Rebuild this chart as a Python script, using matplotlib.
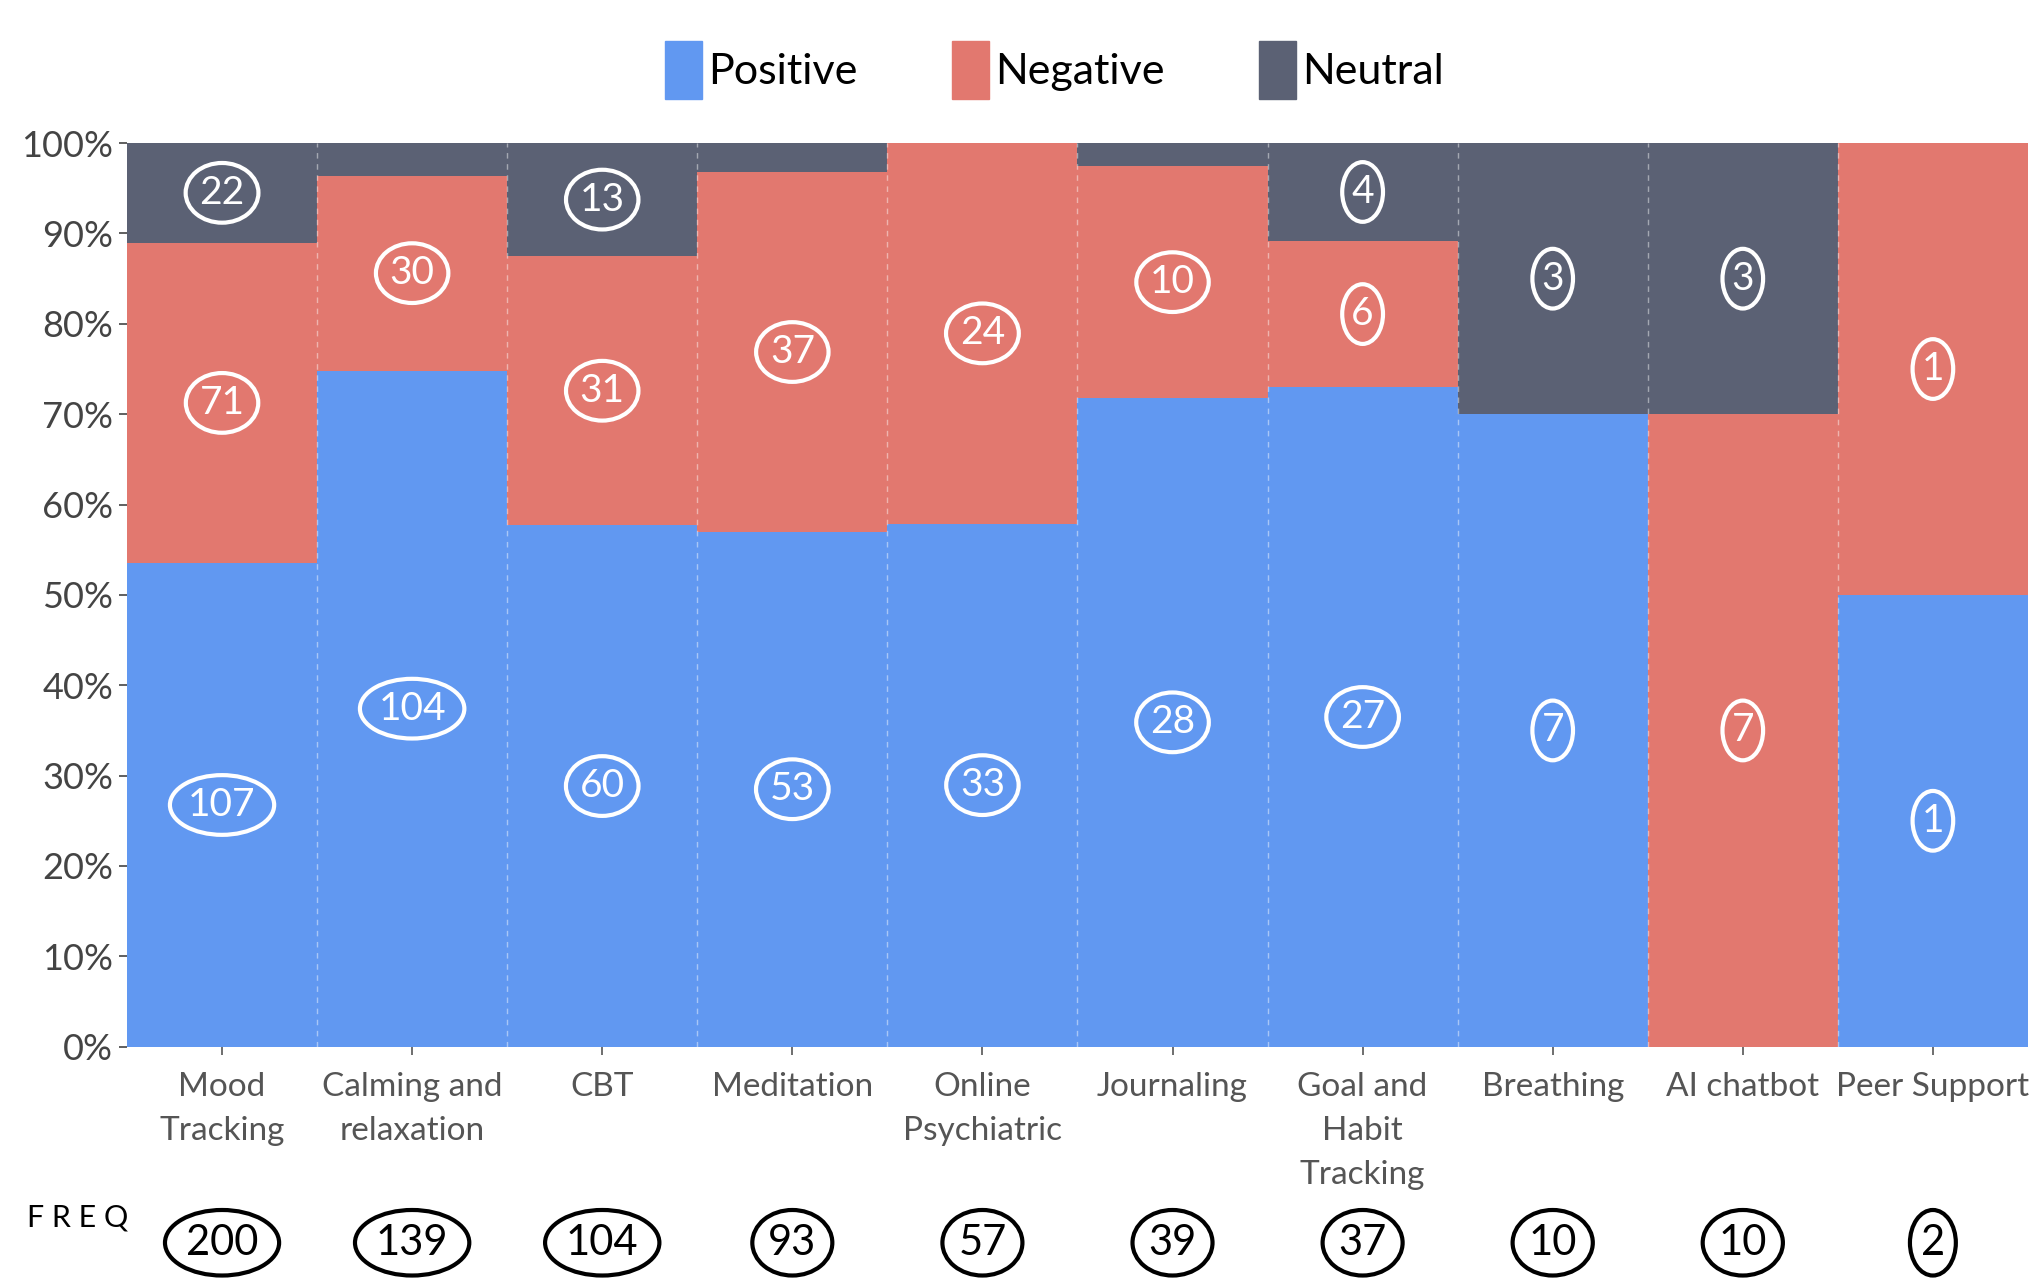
import matplotlib
matplotlib.use("Agg")
import matplotlib.pyplot as plt
import numpy as np
from matplotlib.patches import Patch
from matplotlib.transforms import blended_transform_factory

plt.rcParams['font.family'] = ['Lato', 'DejaVu Sans']

categories = ["Mood\nTracking", "Calming and\nrelaxation", "CBT", "Meditation",
              "Online\nPsychiatric", "Journaling", "Goal and\nHabit\nTracking",
              "Breathing", "AI chatbot", "Peer Support"]
positive = [107, 104, 60, 53, 33, 28, 27, 7, 0, 1]
negative = [71, 30, 31, 37, 24, 10, 6, 0, 7, 1]
neutral = [22, 5, 13, 3, 0, 1, 4, 3, 3, 0]
# which counts are circled on the chart
show_pos = [True, True, True, True, True, True, True, True, False, True]
show_neg = [True, True, True, True, True, True, True, False, True, True]
show_neu = [True, False, True, False, False, False, True, True, True, False]
yticks = [0, 10, 20, 30, 40, 50, 60, 70, 80, 90, 100]

C_POS = "#6198F1"
C_NEG = "#E2786F"
C_NEU = "#5B6174"

pos = np.array(positive, float)
neg = np.array(negative, float)
neu = np.array(neutral, float)
freq = pos + neg + neu
p_pos = pos / freq
p_neg = neg / freq
p_neu = neu / freq
x = np.arange(len(categories))

fig = plt.figure(figsize=(20.32, 12.78), dpi=100)
ax = fig.add_axes([0.0625, 0.181, 0.9355, 0.707])

ax.bar(x, p_pos, width=1.0, color=C_POS, linewidth=0)
ax.bar(x, p_neg, width=1.0, bottom=p_pos, color=C_NEG, linewidth=0)
ax.bar(x, p_neu, width=1.0, bottom=p_pos + p_neg, color=C_NEU, linewidth=0)

for b in np.arange(0.5, len(categories) - 1, 1.0):
    ax.axvline(b, color="white", ls=(0, (4, 4)), lw=1, alpha=0.45)

ax.set_xlim(-0.5, len(categories) - 0.5)
ax.set_ylim(0, 1)
ax.set_yticks([v / 100 for v in yticks])
ax.set_yticklabels([f"{v}%" for v in yticks])
ax.set_xticks(x)
ax.set_xticklabels(categories, linespacing=1.6)
ax.tick_params(axis='y', labelsize=26, colors="#444444", length=6, width=1.2, pad=4)
ax.tick_params(axis='x', labelsize=24, colors="#555555", length=6, width=1.2, pad=12)
for s in ax.spines.values():
    s.set_visible(False)


def circled(xv, yv, val, color, transform=None, fs=28, pad=0.08):
    kw = {}
    if transform is not None:
        kw['transform'] = transform
    ax.text(xv, yv, str(int(val)), ha='center', va='center', fontsize=fs, color=color,
            bbox=dict(boxstyle=f'ellipse,pad={pad}', fc='none', ec=color, lw=3), **kw)


for i in range(len(categories)):
    if show_pos[i] and pos[i] > 0:
        circled(x[i], p_pos[i] / 2, pos[i], "white")
    if show_neg[i] and neg[i] > 0:
        circled(x[i], p_pos[i] + p_neg[i] / 2, neg[i], "white")
    if show_neu[i] and neu[i] > 0:
        circled(x[i], p_pos[i] + p_neg[i] + p_neu[i] / 2, neu[i], "white")

trans = blended_transform_factory(ax.transData, ax.transAxes)
for i in range(len(categories)):
    circled(x[i], -0.217, freq[i], "black", transform=trans, fs=30, pad=0.1)

fig.text(0.038, 0.047, "F R E Q", ha='center', va='center', fontsize=22, color="black")

handles = [Patch(color=C_POS, label="Positive"), Patch(color=C_NEG, label="Negative"),
           Patch(color=C_NEU, label="Neutral")]
fig.legend(handles=handles, loc='center', bbox_to_anchor=(0.519, 0.945), ncol=3,
           frameon=False, fontsize=31, handlelength=0.85, handleheight=1.7,
           handletextpad=0.15, columnspacing=2.2)

fig.savefig("out.png", dpi=100, facecolor="white")
